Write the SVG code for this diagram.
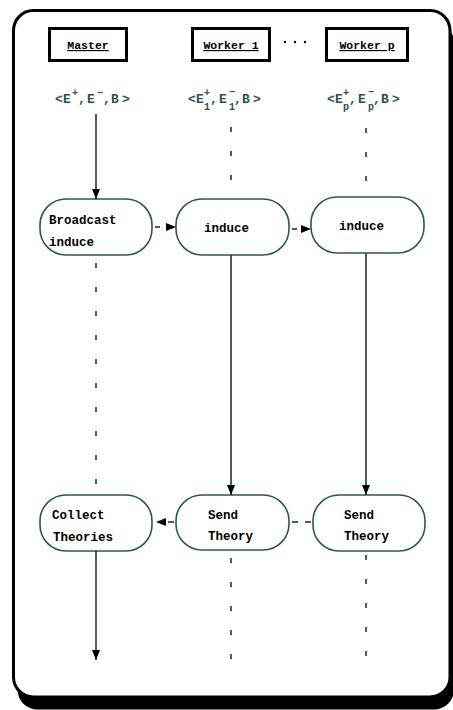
<svg xmlns="http://www.w3.org/2000/svg" width="453" height="710" viewBox="0 0 453 710">
<style>
.hdr{fill:#fff;stroke:#000;stroke-width:3}
.hdrt{font-family:"Liberation Mono",monospace;font-weight:bold;font-size:11.5px;text-decoration:underline;text-anchor:middle;fill:#000}
.tup{font-family:"Liberation Mono",monospace;font-weight:bold;font-size:13px;fill:#2f4f4f}
.sm{font-size:10px}
.node{fill:#fff;stroke:#2e5656;stroke-width:1.6}
.nt{font-family:"Liberation Mono",monospace;font-weight:bold;font-size:12.5px;fill:#000}
.solid{stroke:#222;stroke-width:1.5;fill:none}
.dash{stroke:#222;stroke-width:1.5;fill:none;stroke-dasharray:5 19}
.hd{stroke:#222;stroke-width:1.5;fill:none}
</style>
<defs>
<marker id="ah" markerWidth="10" markerHeight="8" refX="10" refY="4" orient="auto" markerUnits="userSpaceOnUse">
<path d="M0,0 L10,4 L0,8 Z" fill="#000"/>
</marker>
</defs>
<g id="frame">
<rect x="17.5" y="22.5" width="436.5" height="687" rx="20" fill="#000"/>
<rect x="13.5" y="10.5" width="436.5" height="686.5" rx="20" fill="#fff" stroke="#000" stroke-width="3"/>
</g>
<g id="master-hdr">
<rect class="hdr" x="49.5" y="28.5" width="77" height="32"/>
<text class="hdrt" x="88" y="49">Master</text>
</g>
<g id="worker1-hdr">
<rect class="hdr" x="192.5" y="28.5" width="77" height="32"/>
<text class="hdrt" x="231" y="49">Worker 1</text>
</g>
<g id="dots">
<circle cx="285" cy="42" r="1.2" fill="#000"/>
<circle cx="295" cy="42" r="1.2" fill="#000"/>
<circle cx="305" cy="42" r="1.2" fill="#000"/>
</g>
<g id="workerp-hdr">
<rect class="hdr" x="326.5" y="28.5" width="81" height="32"/>
<text class="hdrt" x="367" y="49">Worker p</text>
</g>
<g id="tuple-master">
<text class="tup"><tspan x="55" y="103">&lt;</tspan><tspan x="63" y="103">E</tspan><tspan class="sm" x="72" y="96">+</tspan><tspan x="78" y="103">,</tspan><tspan x="87" y="103">E</tspan><tspan class="sm" x="97" y="96">−</tspan><tspan x="103" y="103">,</tspan><tspan x="111" y="103">B</tspan><tspan x="122" y="103">&gt;</tspan></text>
</g>
<g id="tuple-w1">
<text class="tup"><tspan x="188" y="103">&lt;</tspan><tspan x="196" y="103">E</tspan><tspan class="sm" x="204" y="96">+</tspan><tspan class="sm" x="204" y="110">1</tspan><tspan x="210" y="103">,</tspan><tspan x="219" y="103">E</tspan><tspan class="sm" x="229" y="95">−</tspan><tspan class="sm" x="229" y="110">1</tspan><tspan x="234" y="103">,</tspan><tspan x="242" y="103">B</tspan><tspan x="253" y="103">&gt;</tspan></text>
</g>
<g id="tuple-wp">
<text class="tup"><tspan x="327" y="103">&lt;</tspan><tspan x="335" y="103">E</tspan><tspan class="sm" x="343" y="96">+</tspan><tspan class="sm" x="343" y="110">p</tspan><tspan x="349" y="103">,</tspan><tspan x="358" y="103">E</tspan><tspan class="sm" x="368" y="95">−</tspan><tspan class="sm" x="368" y="110">p</tspan><tspan x="373" y="103">,</tspan><tspan x="381" y="103">B</tspan><tspan x="392" y="103">&gt;</tspan></text>
</g>
<g id="broadcast">
<rect class="node" x="40" y="199" width="112" height="56" rx="26"/>
<text class="nt" x="49" y="224">Broadcast</text>
<text class="nt" x="49" y="246">induce</text>
</g>
<g id="induce1">
<rect class="node" x="176" y="199" width="113" height="56" rx="26"/>
<text class="nt" x="204" y="232">induce</text>
</g>
<g id="inducep">
<rect class="node" x="311" y="197" width="113" height="56" rx="26"/>
<text class="nt" x="339" y="230">induce</text>
</g>
<g id="collect">
<rect class="node" x="40" y="495" width="112" height="56" rx="26"/>
<text class="nt" x="52" y="519">Collect</text>
<text class="nt" x="53" y="541">Theories</text>
</g>
<g id="send1">
<rect class="node" x="176" y="495" width="113" height="55" rx="26"/>
<text class="nt" x="208" y="519">Send</text>
<text class="nt" x="208" y="540">Theory</text>
</g>
<g id="sendp">
<rect class="node" x="313" y="495" width="112" height="56" rx="26"/>
<text class="nt" x="344" y="519">Send</text>
<text class="nt" x="344" y="540">Theory</text>
</g>
<g id="connectors">
<line class="solid" x1="96" y1="114" x2="96" y2="199" marker-end="url(#ah)"/>
<line class="dash" x1="96" y1="263" x2="96" y2="485"/>
<line class="solid" x1="96" y1="551" x2="96" y2="660" marker-end="url(#ah)"/>
<line class="dash" x1="231" y1="127" x2="231" y2="182"/>
<line class="solid" x1="231" y1="255" x2="231" y2="495" marker-end="url(#ah)"/>
<line class="dash" x1="231" y1="558" x2="231" y2="663"/>
<line class="dash" x1="366" y1="128" x2="366" y2="183"/>
<line class="solid" x1="366" y1="253" x2="366" y2="495" marker-end="url(#ah)"/>
<line class="dash" x1="366" y1="555" x2="366" y2="660"/>
<line class="hd" x1="155" y1="227" x2="160" y2="227"/>
<line x1="164" y1="227" x2="176" y2="227" stroke="none" marker-end="url(#ah)"/>
<line class="hd" x1="292" y1="229" x2="297" y2="229"/>
<line x1="299" y1="229" x2="311" y2="229" stroke="none" marker-end="url(#ah)"/>
<line class="hd" x1="168" y1="522" x2="174" y2="522"/>
<line x1="167" y1="522" x2="156" y2="522" stroke="none" marker-end="url(#ah)"/>
<line class="hd" x1="292" y1="522" x2="298" y2="522"/>
<line class="hd" x1="305" y1="522" x2="311" y2="522"/>
</g>
</svg>
